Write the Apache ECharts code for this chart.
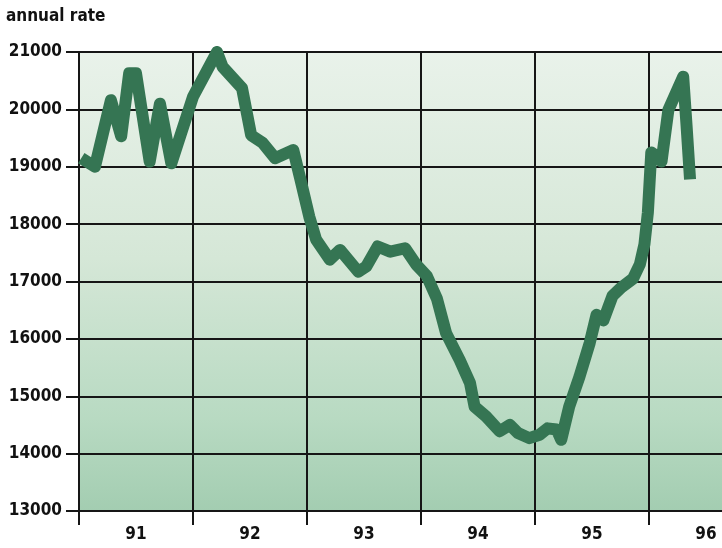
<!DOCTYPE html>
<html>
<head>
<meta charset="utf-8">
<script src="https://cdn.jsdelivr.net/npm/echarts@6/dist/echarts.min.js"></script>
<style>
  html, body { margin: 0; padding: 0; background: #ffffff; }
  #chart { width: 722px; height: 548px; }
</style>
</head>
<body>
<div id="chart"></div>
<script>
// Annual rate, monthly readings 1991 - 1996 (time in decimal years)
const dates = [
  1991.02, 1991.14, 1991.28, 1991.37, 1991.44, 1991.50, 1991.62, 1991.71, 1991.81,
  1992.00, 1992.21, 1992.26, 1992.43, 1992.51, 1992.61, 1992.72, 1992.88, 1992.94,
  1993.02, 1993.08, 1993.20, 1993.29, 1993.45, 1993.52, 1993.62, 1993.73, 1993.86, 1993.96,
  1994.05, 1994.14, 1994.22, 1994.34, 1994.43, 1994.47, 1994.57, 1994.69, 1994.78, 1994.85, 1994.95,
  1995.04, 1995.11, 1995.19, 1995.23, 1995.30, 1995.39, 1995.48, 1995.54, 1995.60, 1995.68,
  1995.76, 1995.86, 1995.92, 1995.96, 1995.99,
  1996.02, 1996.07, 1996.11, 1996.17, 1996.30, 1996.33, 1996.36
];
const values = [
  19150, 19000, 20160, 19530, 20630, 20630, 19090, 20100, 19060,
  20220, 21000, 20740, 20370, 19550, 19420, 19150, 19290, 18800,
  18130, 17730, 17380, 17550, 17170, 17260, 17610, 17520, 17580, 17290,
  17100, 16700, 16100, 15630, 15230, 14820, 14650, 14390, 14500, 14360, 14270,
  14330, 14440, 14420, 14240, 14820, 15340, 15930, 16420, 16320, 16750,
  16900, 17050, 17300, 17650, 18200,
  19250, 19180, 19090, 19990, 20570, 19700, 18780
];
const yearLabels = ['91', '92', '93', '94', '95', '96'];
const yMin = 13000, yMax = 21000, yStep = 1000;

const FONT = "'DejaVu Sans Condensed', 'Liberation Sans Narrow', sans-serif";
const INK = '#161616';

const chart = echarts.init(document.getElementById('chart'), null, { renderer: 'canvas' });

chart.setOption({
  animation: false,
  backgroundColor: '#ffffff',
  title: {
    text: 'annual rate',
    left: 6,
    top: 8,
    padding: 0,
    textStyle: { fontFamily: FONT, fontWeight: 'bold', fontSize: 17, color: '#111' }
  },
  grid: {
    left: 79, top: 52, bottom: 37, right: -41,
    containLabel: false,
    outerBoundsMode: 'none',
    show: true,
    borderWidth: 0,
    backgroundColor: new echarts.graphic.LinearGradient(0, 0, 0, 1, [
      { offset: 0, color: '#e9f2ea' },
      { offset: 0.45, color: '#d5e7d7' },
      { offset: 0.8, color: '#b8dac2' },
      { offset: 1, color: '#a3cdb1' }
    ])
  },
  xAxis: [
    {
      type: 'value',
      min: 1991, max: 1997, interval: 1,
      axisLine: { show: true, onZero: false, lineStyle: { color: INK, width: 2 } },
      axisTick: { show: true, inside: false, length: 14, lineStyle: { color: INK, width: 2 } },
      axisLabel: { show: false },
      splitLine: { show: true, lineStyle: { color: INK, width: 2 } }
    },
    {
      type: 'category',
      position: 'bottom',
      data: yearLabels,
      boundaryGap: true,
      axisLine: { show: false },
      axisTick: { show: false },
      splitLine: { show: false },
      axisLabel: {
        show: true, margin: 15, hideOverlap: false,
        fontFamily: FONT, fontWeight: 'bold', fontSize: 17, color: '#111'
      }
    }
  ],
  yAxis: {
    type: 'value',
    min: yMin, max: yMax, interval: yStep,
    axisLine: { show: true, lineStyle: { color: INK, width: 2 } },
    axisTick: { show: true, inside: false, length: 13, lineStyle: { color: INK, width: 2 } },
    axisLabel: {
      margin: 17,
      formatter: (v) => String(v),
      fontFamily: FONT, fontWeight: 'bold', fontSize: 17, color: '#111'
    },
    splitLine: { show: true, lineStyle: { color: INK, width: 2 } }
  },
  series: [{
    type: 'line',
    xAxisIndex: 0,
    data: dates.map((d, i) => [d, values[i]]),
    showSymbol: false,
    symbol: 'none',
    lineStyle: { color: '#357553', width: 12, join: 'round', cap: 'butt' },
    z: 5
  }]
});
</script>
</body>
</html>
